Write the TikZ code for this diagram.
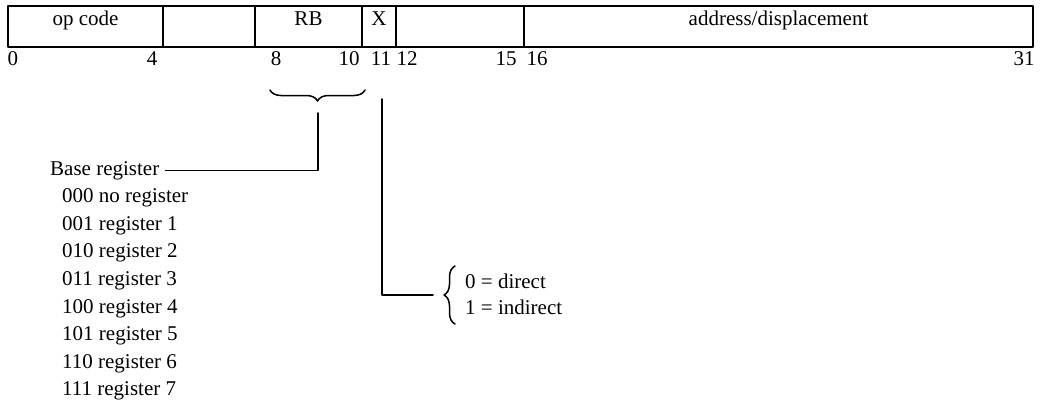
\documentclass[tikz,border=0pt]{standalone}
\usepackage{fontspec}
\setmainfont{Liberation Serif}
\usetikzlibrary{decorations.pathreplacing}
\begin{document}
\begin{tikzpicture}[x=1pt,y=-1pt,line join=round,line cap=round,
	font=\fontsize{21}{25}\selectfont,
	frame/.style={line width=1.8pt},
	wire/.style={line width=1.6pt},
	bitno/.style={inner sep=0pt,anchor=base},
	brc/.style={line width=1.5pt,decorate,decoration={brace,amplitude=11pt}}]
	\useasboundingbox (0,0) rectangle (1041,410);
	% instruction word
	\foreach \a/\b/\n in {8/163/opc,163/255/free,255/362/rb,362/396/xb,396/524/spare,524/1033/addr}
	{\draw[frame] (\a,6) rectangle (\b,47);
		\coordinate (\n) at ({(\a+\b)/2},25);}
	\node[bitno] (opct) at (opc) {op code};
	\node[bitno] (rbt) at (rb) {RB};
	\node[bitno] (xbt) at (xb) {X};
	\node[bitno] (addrt) at (addr) {address/displacement};
	% bit numbers
	\foreach \x/\t in {13/0,152/4,276/8,349/10,381/11,407/12,506/15,537/16,1024/31}
	\node[bitno] (b\t) at (\x,65) {\t};
	% base register field
	\draw[brc] (365,90) -- (270,90) coordinate[midway] (rbmid);
	\coordinate (rbtip) at (318,113);
	\node[inner sep=0pt,anchor=base west] (basereg) at (50,175) {Base register};
	\foreach \c/\t [count=\k] in {000/no register,001/register 1,010/register 2,011/register 3,
		100/register 4,101/register 5,110/register 6,111/register 7}
	\node[inner sep=0pt,anchor=base west] (reg\c) at (62,{175+27.6*\k}) {\c\ \t};
	\draw[wire] (rbtip) |- ([xshift=6pt]basereg.east);
	% indirect bit
	\coordinate (xtop) at (382,99);
	\draw[brc] (455,324) -- (455,266) coordinate[midway] (xsel);
	\node[inner sep=0pt,anchor=base west] (dir) at (465,288) {0 = direct};
	\node[inner sep=0pt,anchor=base west] (ind) at (465,314) {1 = indirect};
	\draw[wire] (xtop) |- ([xshift=-22pt]xsel);
\end{tikzpicture}
\end{document}
